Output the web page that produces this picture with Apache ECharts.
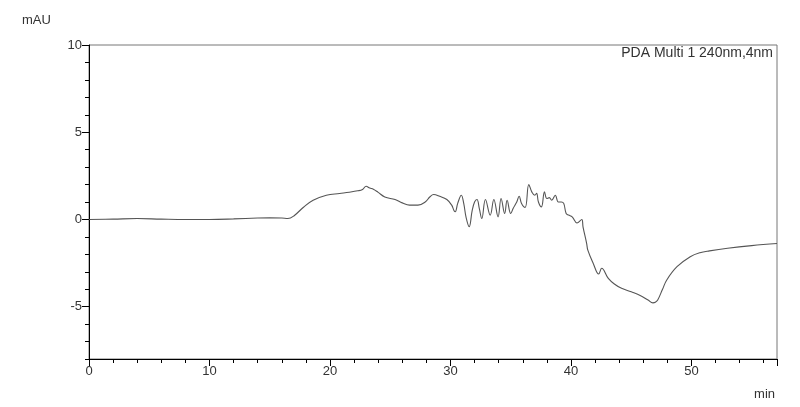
<!DOCTYPE html>
<html><head><meta charset="utf-8">
<script src="https://cdn.jsdelivr.net/npm/echarts@6/dist/echarts.min.js"></script>
<style>html,body{margin:0;padding:0;background:#fff}#c{width:800px;height:407px}</style>
</head><body><div id="c"></div>
<script>
const timeMin = [0,2,4,6,8,10,12,14,15,16,16.5,17.0,17.8,18.6,19.7,20.8,21.6,22.3,22.7,23.0,23.3,23.6,24.0,24.55,25.4,26.0,26.6,27.3,27.9,28.3,28.6,29.1,29.7,30.1,30.3,30.4,30.6,30.9,31.1,31.3,31.55,31.8,32.0,32.2,32.4,32.6,32.9,33.3,33.6,33.95,34.2,34.5,34.7,35.0,35.2,35.5,35.7,35.9,36.2,36.5,36.75,37.0,37.15,37.3,37.55,37.8,38.0,38.2,38.4,38.7,38.95,39.2,39.4,39.6,39.8,40.1,40.5,40.9,41.0,41.3,41.4,41.85,42.3,42.55,43.1,43.6,44.2,45.0,45.7,46.4,46.8,47.0,47.2,47.6,47.95,48.8,49.9,50.7,51.5,53,55,57.1];
const absorbance = [0.0,0.02,0.05,0.02,0.0,0.0,0.03,0.08,0.09,0.08,0.05,0.2,0.7,1.1,1.39,1.49,1.56,1.64,1.72,1.9,1.8,1.73,1.55,1.29,1.14,0.95,0.82,0.82,1.0,1.3,1.43,1.33,1.14,0.82,0.5,0.44,0.92,1.39,0.92,0.1,-0.42,0.5,1.0,1.14,0.6,0.05,1.14,0.25,1.14,0.15,1.2,0.34,1.1,0.34,0.63,1.0,1.33,0.92,0.69,2.0,1.58,1.39,1.5,1.0,0.72,1.58,1.2,1.25,1.1,1.39,1.0,1.0,0.92,0.34,0.25,0.15,-0.2,0.0,-0.42,-1.37,-1.76,-2.52,-3.13,-2.8,-3.38,-3.7,-3.95,-4.15,-4.34,-4.62,-4.78,-4.75,-4.62,-4.0,-3.47,-2.71,-2.14,-1.91,-1.8,-1.65,-1.5,-1.38];
const yTickLabels = [-5,0,5,10];
const xTickLabels = [0,10,20,30,40,50];
const yUnit = 'mAU';
const xUnit = 'min';
const traceLabel = 'PDA Multi 1 240nm,4nm';

const FONT = "'Liberation Sans Narrow','Liberation Sans',Arial,sans-serif";
const TFONT = "'Liberation Sans',Arial,sans-serif";
const chart = echarts.init(document.getElementById('c'), null, {renderer:'canvas'});
const pts = timeMin.map((t,i)=>[t, absorbance[i]]);
chart.setOption({
  animation:false,
  backgroundColor:'#fff',
  grid:{left:89,top:45,right:23,bottom:48,show:true,borderColor:'#777',borderWidth:1},
  title:[
    {text:yUnit,left:17,top:9,textStyle:{fontFamily:TFONT,fontSize:13,fontWeight:'normal',color:'#333'}},
    {text:xUnit,right:20,top:383,textStyle:{fontFamily:TFONT,fontSize:13,fontWeight:'normal',color:'#333'}},
    {text:traceLabel,right:22,top:41,textStyle:{fontFamily:TFONT,fontSize:14,fontWeight:'normal',color:'#333'}}
  ],
  xAxis:{type:'value',min:0,max:57.1,interval:10,
    axisLine:{onZero:false,lineStyle:{color:'#000',width:1}},
    axisTick:{show:true,length:7,lineStyle:{color:'#000'}},
    minorTick:{show:true,splitNumber:5,length:4,lineStyle:{color:'#000'}},
    splitLine:{show:false},
    axisLabel:{margin:6,fontFamily:FONT,fontSize:13,color:'#333',
      formatter:v=>xTickLabels.includes(v)?String(v):''}
  },
  yAxis:[
    {type:'value',min:-8,max:10,interval:1,
     axisLine:{lineStyle:{color:'#000',width:1}},
     axisTick:{show:true,length:4,lineStyle:{color:'#000'}},
     splitLine:{show:false},
     axisLabel:{margin:7,fontFamily:FONT,fontSize:13,color:'#333',
       formatter:v=>yTickLabels.includes(v)?String(v):''}
    },
    {type:'value',min:-8,max:10,position:'left',interval:1,
     axisLine:{show:false},
     axisTick:{show:true,length:7,customValues:yTickLabels,lineStyle:{color:'#000'}},
     splitLine:{show:false},
     axisLabel:{show:false}
    }
  ],
  series:[{type:'line',data:pts,yAxisIndex:0,showSymbol:false,smooth:0.4,
    lineStyle:{color:'#555',width:1.1}}]
});
</script></body></html>
